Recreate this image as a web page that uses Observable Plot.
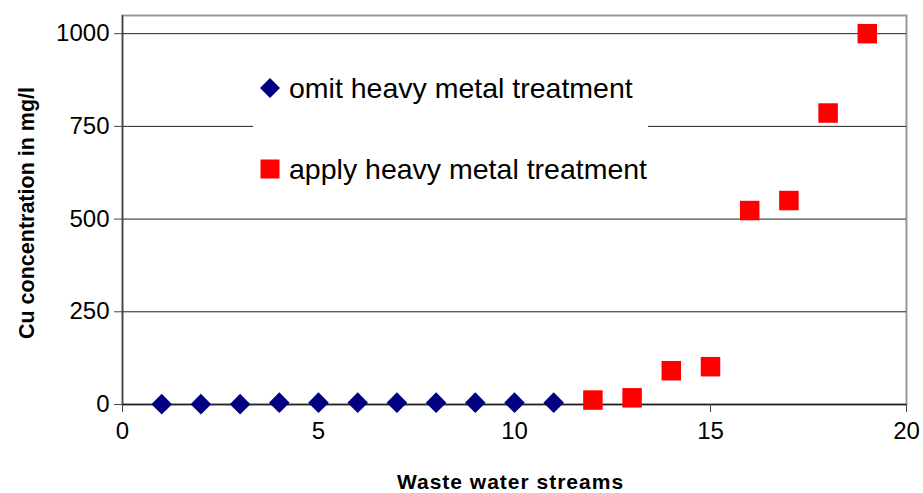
<!DOCTYPE html>
<html>
<head>
<meta charset="utf-8">
<script src="https://cdn.jsdelivr.net/npm/d3@7"></script>
<script src="https://cdn.jsdelivr.net/npm/@observablehq/plot@0.6"></script>
<style>
  body { margin: 0; background: #fff; }
  #wrap { position: relative; width: 923px; height: 493px; font-family: "Liberation Sans", Arial, sans-serif; }
  #legend { position: absolute; left: 253px; top: 44px; width: 395px; height: 160px; background: #fff; }
  .item { position: absolute; left: 0; height: 32px; display: flex; align-items: center; font-size: 28.5px; color: #000; white-space: nowrap; }
  .item svg { margin-left: 6px; margin-right: 8px; }
</style>
</head>
<body>
<div id="wrap"></div>
<script>
// Data
const omitStreams = [1, 2, 3, 4, 5, 6, 7, 8, 9, 10, 11];
const omitCu = [1, 1, 1, 5, 5, 5, 5, 5, 5, 5, 5];
const applyStreams = [12, 13, 14, 15, 16, 17, 18, 19];
const applyCu = [12, 18, 91, 102, 523, 550, 786, 1000];
const seriesNames = ["omit heavy metal treatment", "apply heavy metal treatment"];
const yTicks = [0, 250, 500, 750, 1000];
const xTicks = [0, 5, 10, 15, 20];
const xTitle = "Waste water streams";
const yTitle = "Cu concentration in mg/l";

const omit = omitStreams.map((s, i) => ({stream: s, cu: omitCu[i]}));
const apply = applyStreams.map((s, i) => ({stream: s, cu: applyCu[i]}));

const chart = Plot.plot({
  width: 923,
  height: 493,
  marginLeft: 122,
  marginRight: 17,
  marginTop: 15,
  marginBottom: 89,
  style: {fontFamily: "'Liberation Sans', Arial, sans-serif", fontSize: "24px", color: "#000", background: "#fff"},
  x: {domain: [0, 20]},
  y: {domain: [0, 1049]},
  marks: [
    Plot.frame({stroke: "#999", strokeWidth: 2}),
    Plot.gridY(yTicks, {stroke: "#222", strokeOpacity: 1}),
    Plot.ruleX([0], {stroke: "#444", strokeWidth: 1.5}),
    Plot.ruleY([0], {stroke: "#222", strokeWidth: 1.5}),
    Plot.axisY({ticks: yTicks, tickSize: 8, tickPadding: 5, stroke: "#444", tickFormat: d => String(d),
      label: null, fontSize: 24}),
    Plot.axisX({ticks: xTicks, tickSize: 8, tickPadding: 9, stroke: "#444", tickFormat: d => String(d),
      label: null, fontSize: 24}),
    Plot.text([yTitle], {frameAnchor: "left", dx: -95, dy: 3, rotate: -90, textAnchor: "middle", lineAnchor: "middle",
      fontSize: 21.5, fontWeight: "bold", fill: "#000"}),
    Plot.text([xTitle], {frameAnchor: "bottom", dy: 78, textAnchor: "middle", lineAnchor: "middle",
      fontSize: 21, fontWeight: "bold", fill: "#000", dx: -4}),
    Plot.dot(omit, {x: "stream", y: "cu", symbol: "diamond2", r: 9.3, fill: "#000080", stroke: "none"}),
    Plot.dot(apply, {x: "stream", y: "cu", symbol: "square", r: 11, fill: "#ff0000", stroke: "none"})
  ]
});

d3.select(chart).selectAll("text").filter(function () { return this.textContent === xTitle; })
  .attr("letter-spacing", "1px");

const wrap = document.getElementById("wrap");
wrap.appendChild(chart);

// Legend overlay (inside plot area)
const legend = document.createElement("div");
legend.id = "legend";
const items = [
  {name: seriesNames[0], color: "#000080", shape: "diamond", top: 28},
  {name: seriesNames[1], color: "#ff0000", shape: "square", top: 109}
];
for (const it of items) {
  const div = document.createElement("div");
  div.className = "item";
  div.style.top = it.top + "px";
  const sym = it.shape === "diamond"
    ? `<svg width="22" height="22" viewBox="-11 -11 22 22"><path d="M0,-10L10,0L0,10L-10,0Z" fill="${it.color}"/></svg>`
    : `<svg width="22" height="22" viewBox="-11 -11 22 22"><rect x="-9.5" y="-9.5" width="19" height="19" fill="${it.color}"/></svg>`;
  div.innerHTML = sym + `<span>${it.name}</span>`;
  legend.appendChild(div);
}
wrap.appendChild(legend);
</script>
</body>
</html>
